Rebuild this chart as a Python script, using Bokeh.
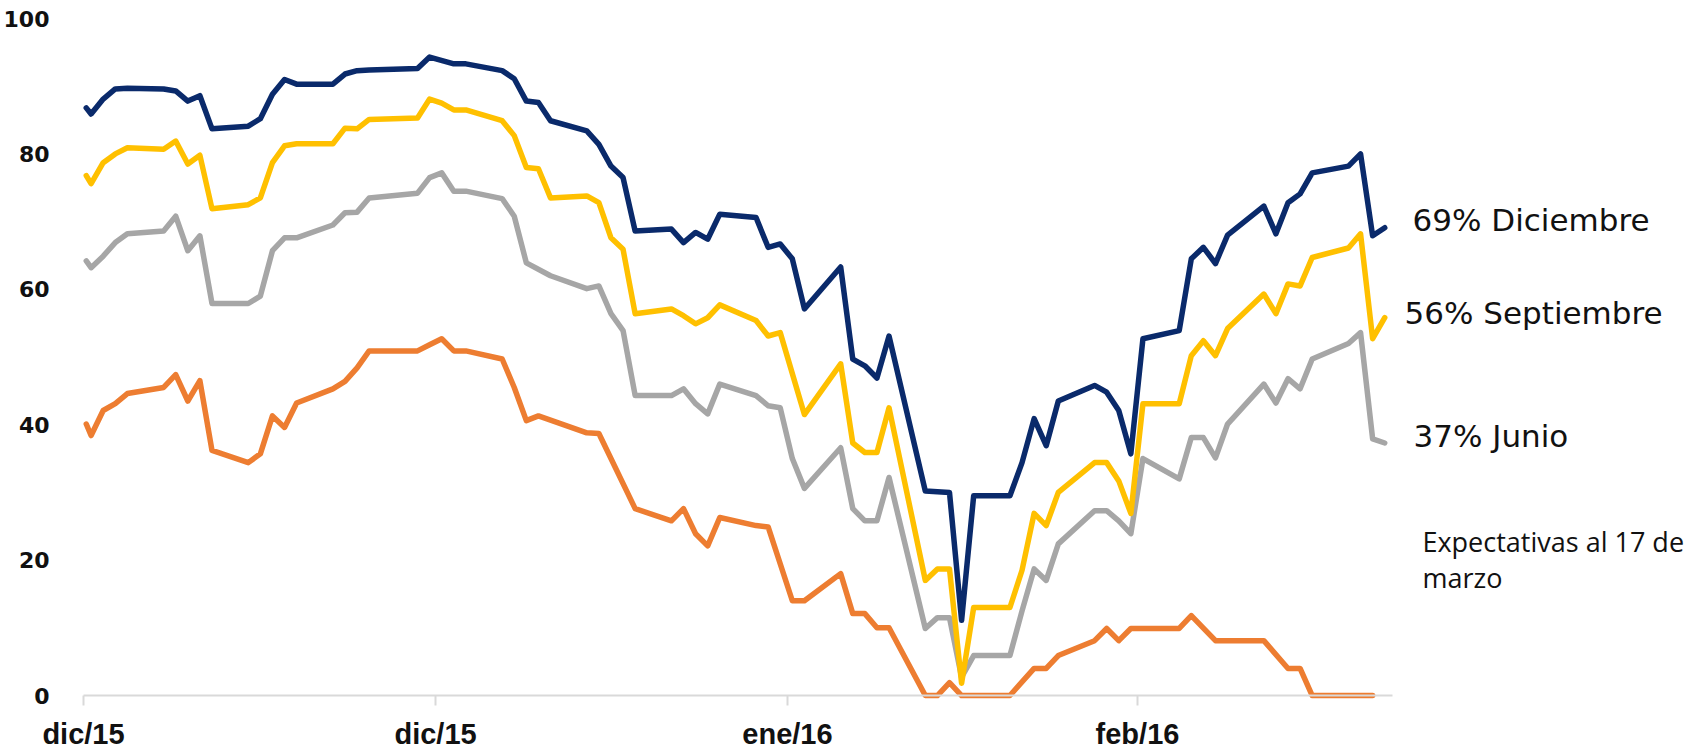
from bokeh.plotting import figure
from bokeh.models import Range1d, FixedTicker, CustomJSTickFormatter, Label
from bokeh.embed import file_html
from bokeh.resources import INLINE

# ---- data (x = trading day index from start of window) ----
dic_days = [0.6, 1, 2, 3, 4, 7, 8, 9, 10, 11, 14, 15, 16, 17, 18, 21, 22, 23, 24, 28, 29, 31, 32,
            35, 36, 37, 38, 39, 42, 43, 44, 45, 46, 49, 50, 51, 52, 53, 56, 57, 58, 59, 60, 63,
            64, 65, 66, 67, 70, 72, 73, 74, 77, 78, 79, 80, 81, 84, 85, 86, 87, 88, 91, 92, 93,
            94, 95, 98, 99, 100, 101, 102, 105, 106, 107, 108]
dic_vals = [86.8, 85.9, 88.1, 89.6, 89.7, 89.6, 89.3, 87.8, 88.6, 83.7, 84.1, 85.2, 88.8, 91.0, 90.3,
            90.3, 91.8, 92.3, 92.4, 92.6, 94.3, 93.3, 93.3, 92.3, 91.1, 87.8, 87.6, 84.9, 83.4, 81.4,
            78.2, 76.5, 68.6, 68.9, 66.9, 68.4, 67.4, 71.1, 70.6, 66.2, 66.7, 64.5, 57.1, 63.3, 49.7,
            48.7, 46.9, 53.1, 30.2, 30.0, 11.1, 29.5, 29.5, 34.4, 40.9, 36.9, 43.5, 45.8, 44.8, 42.1,
            35.7, 52.7, 53.9, 64.5, 66.2, 63.8, 68.0, 72.3, 68.2, 72.8, 74.1, 77.2, 78.2, 80.0, 67.9,
            69.1]

sep_days = [0.6, 1, 2, 3, 4, 7, 8, 9, 10, 11, 14, 15, 16, 17, 18, 21, 22, 23, 24, 28, 29, 30, 31,
            32, 35, 36, 37, 38, 39, 42, 43, 44, 45, 46, 49, 50, 51, 52, 53, 56, 57, 58, 60, 63,
            64, 65, 66, 67, 70, 71, 72, 73, 74, 77, 78, 79, 80, 81, 84, 85, 86, 87, 88, 91, 92,
            93, 94, 95, 98, 99, 100, 101, 102, 105, 106, 107, 108]
sep_vals = [76.8, 75.6, 78.7, 80.0, 80.9, 80.7, 81.9, 78.5, 79.8, 71.9, 72.5, 73.5, 78.7, 81.2, 81.5,
            81.5, 83.8, 83.7, 85.1, 85.3, 88.1, 87.5, 86.5, 86.5, 84.9, 82.7, 78.0, 77.8, 73.5, 73.8,
            72.8, 67.6, 65.9, 56.4, 57.1, 56.1, 54.9, 55.8, 57.7, 55.4, 53.1, 53.6, 41.5, 49.0, 37.3,
            35.9, 35.9, 42.5, 17.0, 18.7, 18.7, 1.8, 13.0, 13.0, 18.5, 26.9, 25.1, 30.0, 34.4, 34.4,
            31.7, 26.9, 43.1, 43.1, 50.2, 52.4, 50.2, 54.2, 59.3, 56.4, 60.8, 60.5, 64.7, 66.1, 68.2,
            52.7, 55.8]

jun_days = [0.6, 1, 2, 3, 4, 7, 8, 9, 10, 11, 14, 15, 16, 17, 18, 21, 22, 23, 24, 28, 29, 30, 31,
            32, 35, 36, 37, 39, 42, 43, 44, 45, 46, 49, 50, 51, 52, 53, 56, 57, 58, 59, 60, 63,
            64, 65, 66, 67, 70, 71, 72, 73, 74, 77, 78, 79, 80, 81, 84, 85, 86, 87, 88, 91, 92,
            93, 94, 95, 98, 99, 100, 101, 102, 105, 106, 107, 108]
jun_vals = [64.2, 63.2, 64.9, 66.9, 68.2, 68.6, 70.8, 65.7, 67.9, 57.9, 57.9, 59.0, 65.7, 67.6, 67.6,
            69.5, 71.3, 71.4, 73.5, 74.2, 76.5, 77.2, 74.5, 74.5, 73.4, 70.8, 63.9, 62.0, 60.1, 60.5,
            56.4, 53.9, 44.3, 44.3, 45.3, 43.1, 41.6, 46.0, 44.3, 42.8, 42.5, 35.0, 30.6, 36.6, 27.6,
            25.8, 25.8, 32.2, 9.9, 11.5, 11.5, 2.7, 5.9, 5.9, 12.5, 18.7, 17.0, 22.4, 27.3, 27.3,
            25.8, 23.9, 35.0, 32.0, 38.1, 38.1, 35.1, 40.1, 46.0, 43.2, 46.8, 45.3, 49.7, 52.0, 53.6,
            37.9, 37.3]

mar_days = [0.6, 1, 2, 3, 4, 7, 8, 9, 10, 11, 14, 15, 16, 17, 18, 21, 22, 23, 24, 28, 29, 30, 31,
            32, 35, 36, 37, 38, 42, 43, 46, 49, 50, 51, 52, 53, 56, 57, 59, 60, 63, 64, 65, 66,
            67, 70, 71, 72, 73, 77, 79, 80, 81, 84, 85, 86, 87, 91, 92, 94, 98, 100, 101, 102, 107]
mar_vals = [40.1, 38.4, 42.1, 43.1, 44.6, 45.5, 47.4, 43.5, 46.5, 36.2, 34.4, 35.7, 41.3, 39.6, 43.2,
            45.3, 46.4, 48.4, 50.9, 50.9, 51.8, 52.7, 50.9, 50.9, 49.7, 45.5, 40.6, 41.3, 38.8, 38.7,
            27.6, 25.8, 27.6, 23.9, 22.1, 26.3, 25.1, 24.9, 14.0, 14.0, 18.0, 12.1, 12.1, 10.0, 10.0,
            0.0, 0.0, 1.9, 0.0, 0.0, 4.0, 4.0, 5.9, 8.1, 9.9, 8.1, 9.9, 9.9, 11.8, 8.1, 8.1, 4.0,
            4.0, 0.0, 0.0]

tick_days = [0.372, 29.49, 58.60, 87.55]
tick_labels = ["dic/15", "dic/15", "ene/16", "feb/16"]
y_ticks = [0, 20, 40, 60, 80, 100]

series = [
    (dic_days, dic_vals, "#0a2a6b", "69% Diciembre", 70.31, 110.3),
    (sep_days, sep_vals, "#ffc000", "56% Septiembre", 56.57, 109.64),
    (jun_days, jun_vals, "#a6a6a6", "37% Junio", 38.4, 110.38),
    (mar_days, mar_vals, "#ed7d31", None, None, None),
]

p = figure(width=1690, height=751, output_backend="svg", toolbar_location=None,
           x_range=Range1d(-6.493, 133.29), y_range=Range1d(-8.27, 102.66),
           min_border_left=0, min_border_right=0, min_border_top=0, min_border_bottom=0)
p.outline_line_color = None
p.grid.visible = False
p.background_fill_color = "white"
p.border_fill_color = "white"

for days, vals, color, lab, ly, lx in reversed(series):
    p.line(days, vals, line_color=color, line_width=5.5, line_join="round", line_cap="round")

for days, vals, color, lab, ly, lx in series:
    if lab:
        p.add_layout(Label(x=lx, y=ly, text=lab, text_font="DejaVu Sans", text_font_size="31px",
                           text_color="#111111", text_baseline="middle", text_align="left"))

p.add_layout(Label(x=111.12, y=22.75, text="Expectativas al 17 de", text_font="Open Sans",
                   text_font_size="27px", text_color="#111111", text_baseline="middle"))
p.add_layout(Label(x=111.12, y=17.43, text="marzo", text_font="Open Sans",
                   text_font_size="27px", text_color="#111111", text_baseline="middle"))

xa = p.xaxis[0]
xa.fixed_location = 0
xa.bounds = (tick_days[0], 108.64)
xa.ticker = FixedTicker(ticks=tick_days)
xa.formatter = CustomJSTickFormatter(args=dict(labels=tick_labels), code="return labels[index];")
xa.axis_line_color = "#d9d9d9"
xa.axis_line_width = 2
xa.major_tick_line_color = "#d9d9d9"
xa.major_tick_line_width = 2
xa.major_tick_out = 10
xa.major_tick_in = 0
xa.minor_tick_line_color = None
xa.major_label_text_font = "Liberation Sans"
xa.major_label_text_font_style = "bold"
xa.major_label_text_font_size = "29px"
xa.major_label_text_color = "#111111"
xa.major_label_standoff = 12

ya = p.yaxis[0]
ya.fixed_location = tick_days[0]
ya.ticker = FixedTicker(ticks=y_ticks)
ya.axis_line_color = None
ya.major_tick_line_color = None
ya.minor_tick_line_color = None
ya.major_label_text_font = "DejaVu Sans"
ya.major_label_text_font_style = "bold"
ya.major_label_text_font_size = "22px"
ya.major_label_text_color = "#111111"
ya.major_label_standoff = 28

open("out.html", "w").write(file_html(p, INLINE))
